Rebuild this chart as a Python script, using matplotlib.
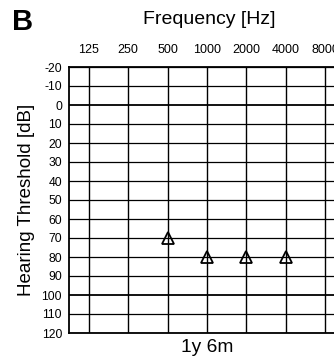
import numpy as np
import matplotlib
matplotlib.use("Agg")
import matplotlib.pyplot as plt

freqs = [125, 250, 500, 1000, 2000, 4000, 8000]
db_ticks = list(range(-20, 121, 10))
meas_freq = [500, 1000, 2000, 4000]
meas_db = [70, 80, 80, 80]

plt.rcParams["font.family"] = ["Liberation Sans", "DejaVu Sans"]

fig = plt.figure(figsize=(3.34, 3.59), dpi=100)
ax = fig.add_axes([69 / 334, 26 / 359, 276 / 334, 266 / 359])

xpos = np.log2(np.array(freqs) / 125.0)
for x in xpos:
    ax.axvline(x, color="black", lw=1.0, zorder=1)
for d in db_ticks:
    ax.axhline(d, color="black", lw=1.3 if d in (0, 100) else 0.9, zorder=1)

mx = np.log2(np.array(meas_freq) / 125.0)
ax.plot(mx, meas_db, ls="none", marker="^", ms=9, mfc="none", mec="black", mew=1.3, zorder=3)

ax.set_xlim(-0.5, 6.5)
ax.set_ylim(120, -20)
ax.set_xticks(xpos)
ax.set_xticklabels([str(f) for f in freqs], fontsize=9)
ax.set_yticks(db_ticks)
ax.set_yticklabels([str(d) for d in db_ticks], fontsize=8.7)
ax.xaxis.tick_top()
ax.tick_params(axis="x", length=0, pad=8)
ax.tick_params(axis="y", length=0, pad=5)
for s in ax.spines.values():
    s.set_linewidth(1.3)

ax.set_ylabel("Hearing Threshold [dB]", fontsize=13.5, labelpad=5)
ax.set_xlabel("1y 6m", fontsize=13.8, labelpad=4)
ax.xaxis.set_label_position("bottom")
fig.text(209 / 334, 1 - 20 / 359, "Frequency [Hz]", fontsize=14, ha="center", va="center")
fig.text(12 / 334, 1 - 22 / 359, "B", fontsize=21, fontweight="bold", ha="left", va="center")

fig.savefig("out.png", dpi=100)
